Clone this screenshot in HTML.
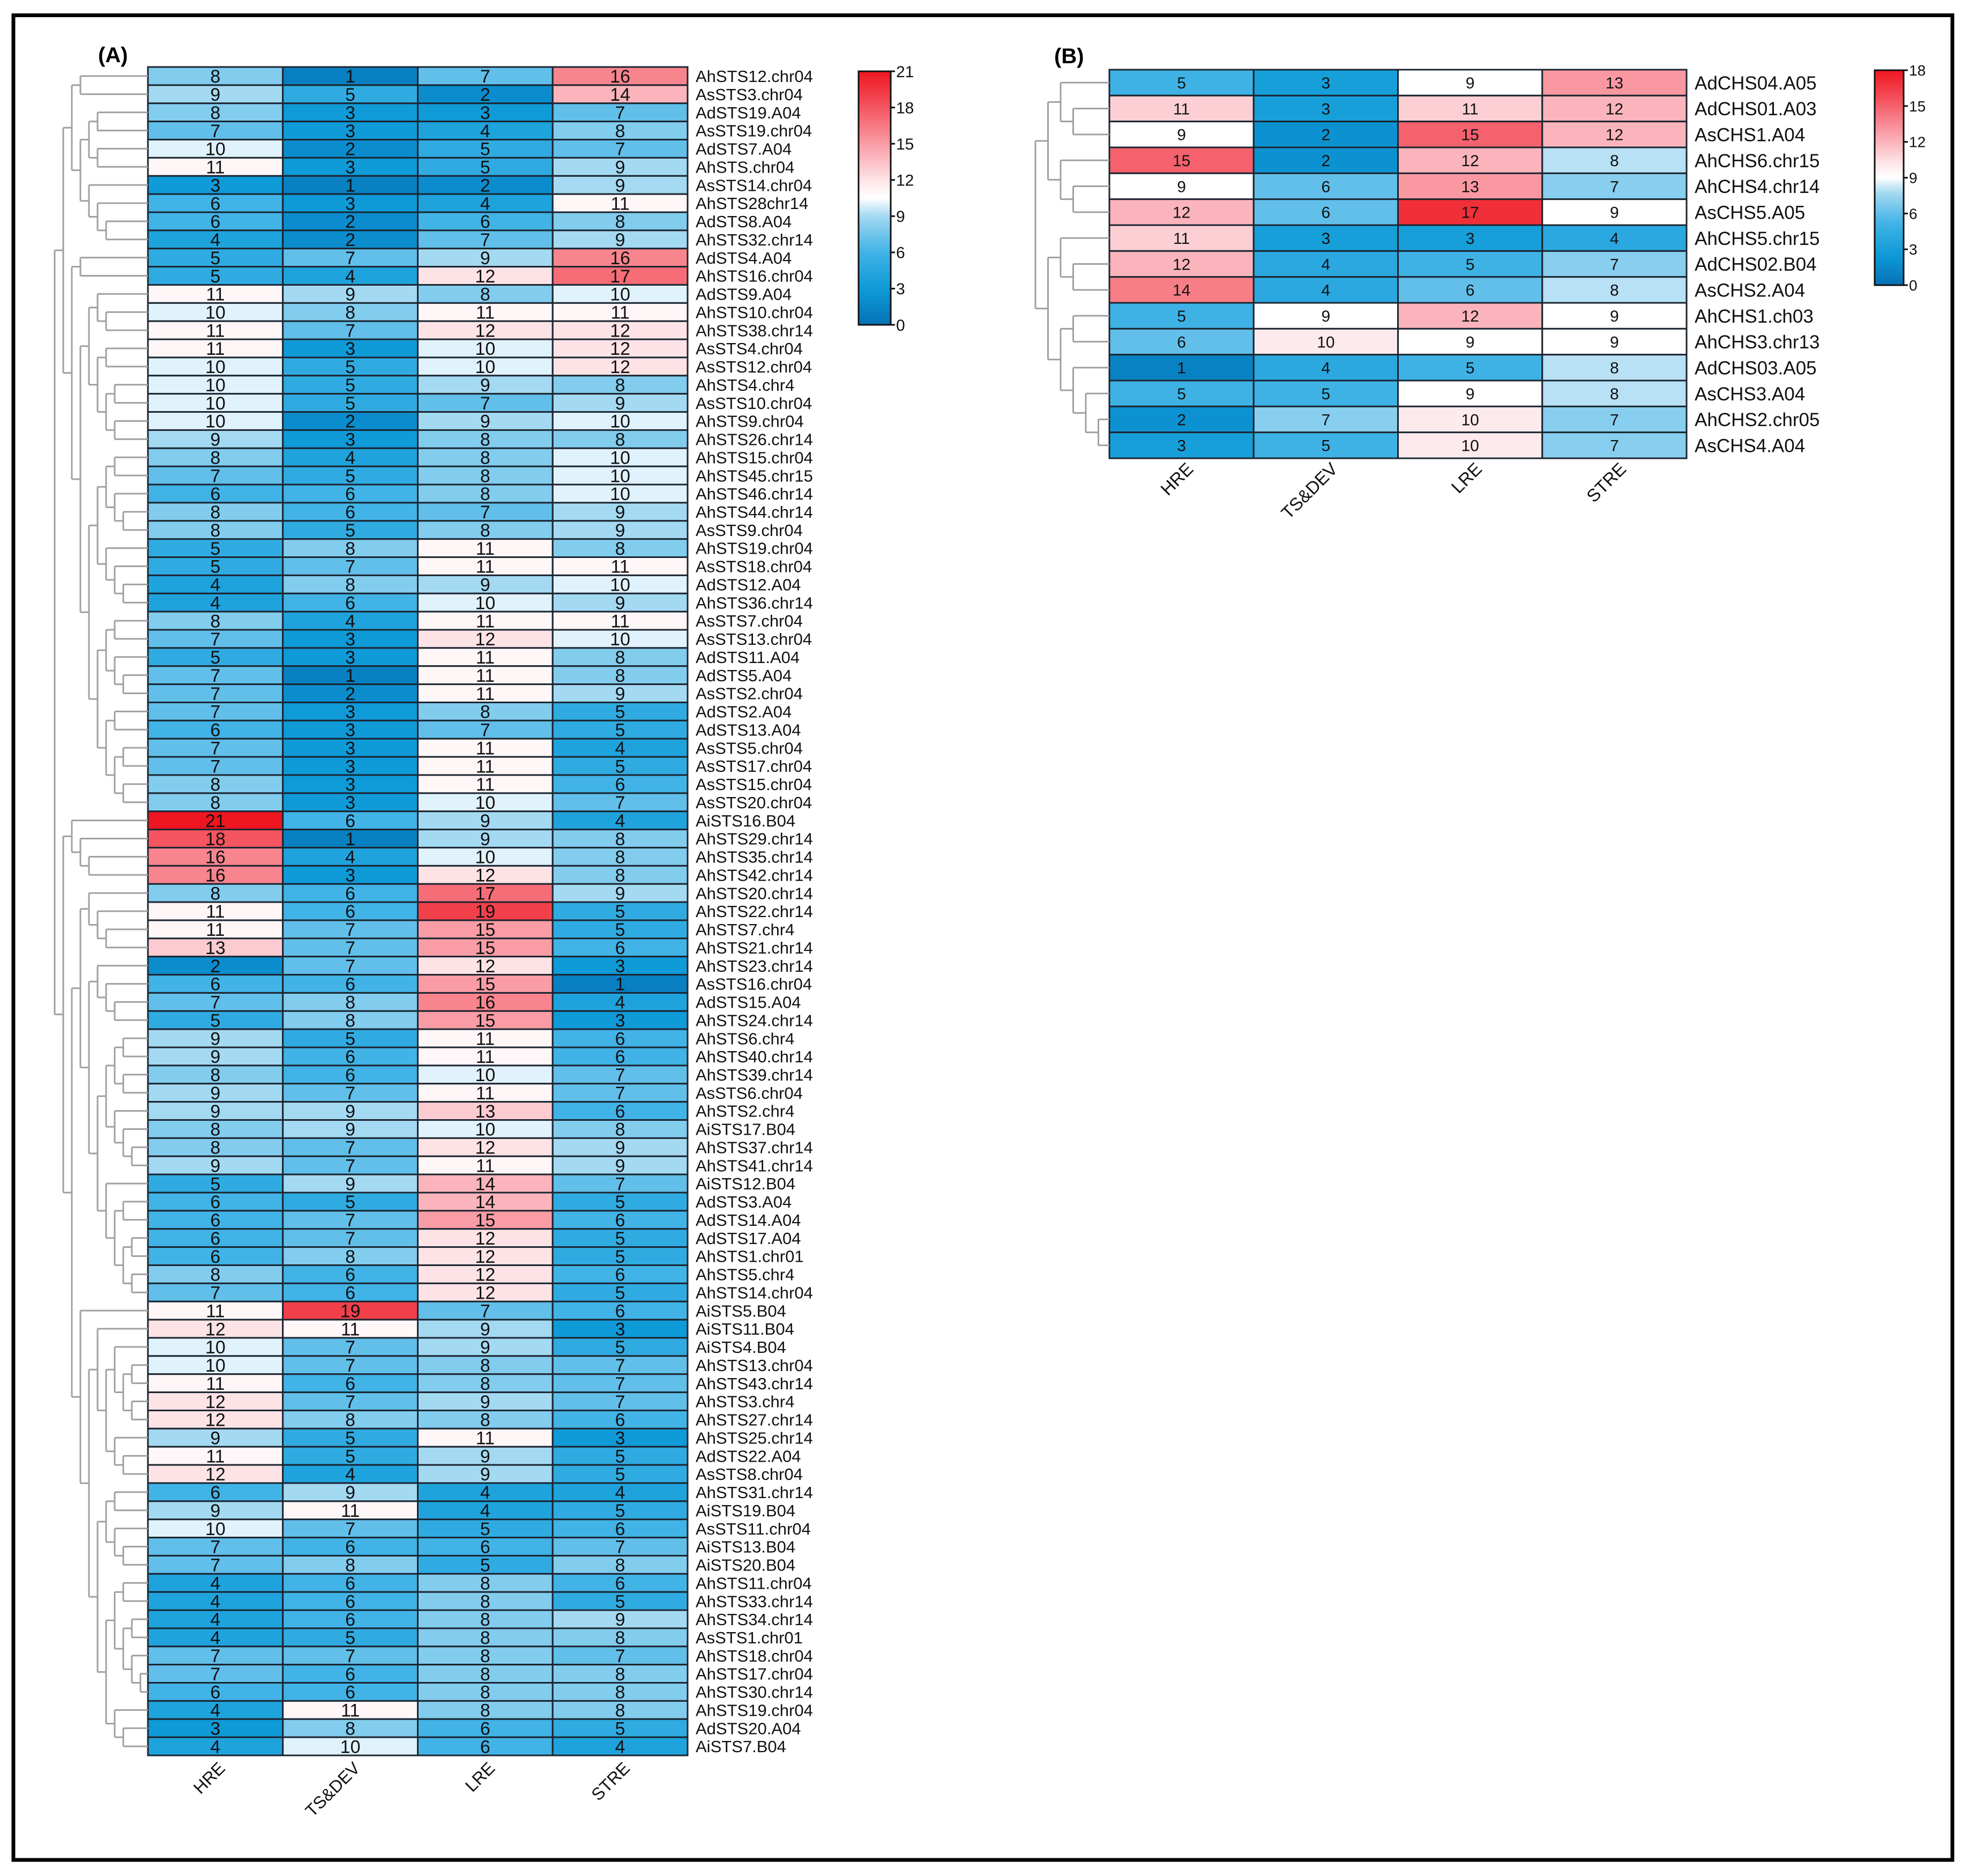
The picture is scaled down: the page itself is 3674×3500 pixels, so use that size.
<!DOCTYPE html>
<html><head><meta charset="utf-8"><style>
html,body{margin:0;padding:0;background:#fff;}
svg{display:block;font-family:"Liberation Sans",Arial,sans-serif;}
</style></head><body>
<svg id="fig" width="3674" height="3500" viewBox="0 0 3674 3500" xmlns="http://www.w3.org/2000/svg">
<rect x="0" y="0" width="3674" height="3500" fill="#fff"/>
<rect x="25" y="28.5" width="3618" height="3441.5" fill="none" stroke="#000" stroke-width="7"/>
<text x="183" y="116" font-size="40" font-weight="bold">(A)</text>
<text x="1967" y="118" font-size="40" font-weight="bold">(B)</text>
<g id="gA"></g>
<g id="gB"></g>
</svg>
<script>
const colsA = ["HRE","TS&DEV","LRE","STRE"];
const rowsA = ["AhSTS12.chr04","AsSTS3.chr04","AdSTS19.A04","AsSTS19.chr04","AdSTS7.A04","AhSTS.chr04","AsSTS14.chr04","AhSTS28chr14","AdSTS8.A04","AhSTS32.chr14","AdSTS4.A04","AhSTS16.chr04","AdSTS9.A04","AhSTS10.chr04","AhSTS38.chr14","AsSTS4.chr04","AsSTS12.chr04","AhSTS4.chr4","AsSTS10.chr04","AhSTS9.chr04","AhSTS26.chr14","AhSTS15.chr04","AhSTS45.chr15","AhSTS46.chr14","AhSTS44.chr14","AsSTS9.chr04","AhSTS19.chr04","AsSTS18.chr04","AdSTS12.A04","AhSTS36.chr14","AsSTS7.chr04","AsSTS13.chr04","AdSTS11.A04","AdSTS5.A04","AsSTS2.chr04","AdSTS2.A04","AdSTS13.A04","AsSTS5.chr04","AsSTS17.chr04","AsSTS15.chr04","AsSTS20.chr04","AiSTS16.B04","AhSTS29.chr14","AhSTS35.chr14","AhSTS42.chr14","AhSTS20.chr14","AhSTS22.chr14","AhSTS7.chr4","AhSTS21.chr14","AhSTS23.chr14","AsSTS16.chr04","AdSTS15.A04","AhSTS24.chr14","AhSTS6.chr4","AhSTS40.chr14","AhSTS39.chr14","AsSTS6.chr04","AhSTS2.chr4","AiSTS17.B04","AhSTS37.chr14","AhSTS41.chr14","AiSTS12.B04","AdSTS3.A04","AdSTS14.A04","AdSTS17.A04","AhSTS1.chr01","AhSTS5.chr4","AhSTS14.chr04","AiSTS5.B04","AiSTS11.B04","AiSTS4.B04","AhSTS13.chr04","AhSTS43.chr14","AhSTS3.chr4","AhSTS27.chr14","AhSTS25.chr14","AdSTS22.A04","AsSTS8.chr04","AhSTS31.chr14","AiSTS19.B04","AsSTS11.chr04","AiSTS13.B04","AiSTS20.B04","AhSTS11.chr04","AhSTS33.chr14","AhSTS34.chr14","AsSTS1.chr01","AhSTS18.chr04","AhSTS17.chr04","AhSTS30.chr14","AhSTS19.chr04","AdSTS20.A04","AiSTS7.B04"];
const hreA  = [8,9,8,7,10,11,3,6,6,4,5,5,11,10,11,11,10,10,10,10,9,8,7,6,8,8,5,5,4,4,8,7,5,7,7,7,6,7,7,8,8,21,18,16,16,8,11,11,13,2,6,7,5,9,9,8,9,9,8,8,9,5,6,6,6,6,8,7,11,12,10,10,11,12,12,9,11,12,6,9,10,7,7,4,4,4,4,7,7,6,4,3,4];
const tsdevA= [1,5,3,3,2,3,1,3,2,2,7,4,9,8,7,3,5,5,5,2,3,4,5,6,6,5,8,7,8,6,4,3,3,1,2,3,3,3,3,3,3,6,1,4,3,6,6,7,7,7,6,8,8,5,6,6,7,9,9,7,7,9,5,7,7,8,6,6,19,11,7,7,6,7,8,5,5,4,9,11,7,6,8,6,6,6,5,7,6,6,11,8,10];
const lreA  = [7,2,3,4,5,5,2,4,6,7,9,12,8,11,12,10,10,9,7,9,8,8,8,8,7,8,11,11,9,10,11,12,11,11,11,8,7,11,11,11,10,9,9,10,12,17,19,15,15,12,15,16,15,11,11,10,11,13,10,12,11,14,14,15,12,12,12,12,7,9,9,8,8,9,8,11,9,9,4,4,5,6,5,8,8,8,8,8,8,8,8,6,6];
const streA = [16,14,7,8,7,9,9,11,8,9,16,17,10,11,12,12,12,8,9,10,8,10,10,10,9,9,8,11,10,9,11,10,8,8,9,5,5,4,5,6,7,4,8,8,8,9,5,5,6,3,1,4,3,6,6,7,7,6,8,9,9,7,5,6,5,5,6,5,6,3,5,7,7,7,6,3,5,5,4,5,6,7,8,6,5,9,8,7,8,8,8,5,4];
const ticksA = [0,3,6,9,12,15,18,21];
const maxA = 21;

const colsB = ["HRE","TS&DEV","LRE","STRE"];
const rowsB = ["AdCHS04.A05","AdCHS01.A03","AsCHS1.A04","AhCHS6.chr15","AhCHS4.chr14","AsCHS5.A05","AhCHS5.chr15","AdCHS02.B04","AsCHS2.A04","AhCHS1.ch03","AhCHS3.chr13","AdCHS03.A05","AsCHS3.A04","AhCHS2.chr05","AsCHS4.A04"];
const hreB  = [5,11,9,15,9,12,11,12,14,5,6,1,5,2,3];
const tsdevB= [3,3,2,2,6,6,3,4,4,9,10,4,5,7,5];
const lreB  = [9,11,15,12,13,17,3,5,6,12,9,5,9,10,10];
const streB = [13,12,12,8,7,9,4,7,8,9,9,8,8,7,7];
const ticksB = [0,3,6,9,12,15,18];
const maxB = 18;

const treeA = [[[[1,2],[[[3,4],[5,6]],[7,[8,[9,10]]]]],
  [[11,12],[[[13,[14,15]],[[16,17],[[18,19],[20,21]]]],
    [[[[22,23],[24,[25,26]]],[27,[28,[29,30]]]],
     [[[31,32],[33,[34,35]]],[[36,37],[[38,39],[40,41]]]]]]]],
 [[42,[43,[44,45]]],
  [[[46,[47,[48,49]]],[[50,[51,[52,53]]],
     [[[[54,55],[56,57]],[58,[59,[60,61]]]],[62,[[63,64],[[65,66],[67,68]]]]]]],
   [69,[[70,[[71,[[72,73],[74,75]]],[76,[77,78]]]],
        [[[79,80],[81,[82,83]]],[[[84,85],[[86,87],[88,[89,90]]]],[91,[92,93]]]]]]]]];
const treeB = [[[1,[2,3]],[4,[5,6]]],[[7,[8,9]],[[10,11],[12,[13,[14,15]]]]]];

const NS = "http://www.w3.org/2000/svg";
const stops = [[0,[6,114,181]],[0.14,[14,154,216]],[0.29,[66,180,230]],[0.43,[165,217,242]],[0.5,[255,255,255]],[0.57,[253,228,231]],[0.71,[250,158,167]],[0.86,[244,84,95]],[1,[238,22,32]]];
function color(t){
  t=Math.max(0,Math.min(1,t));
  for(let i=1;i<stops.length;i++){
    if(t<=stops[i][0]){
      const a=stops[i-1],b=stops[i];const f=(t-a[0])/(b[0]-a[0]);
      const c=a[1].map((v,k)=>Math.round(v+(b[1][k]-v)*f));
      return `rgb(${c[0]},${c[1]},${c[2]})`;
    }
  }
  return "rgb(238,22,32)";
}
function mk(tag, attrs, parent){
  const e=document.createElementNS(NS,tag);
  for(const k in attrs) e.setAttribute(k,attrs[k]);
  parent.appendChild(e);return e;
}
function drawTree(g, tree, rootX, step, leafX, top, rh){
  function rec(node, depth){
    if(typeof node==="number") return {y: top+(node-0.5)*rh, x: leafX};
    const x = rootX+depth*step;
    const ch = node.map(c=>rec(c, depth+1));
    const ys = ch.map(c=>c.y);
    const l = mk("line",{x1:x,x2:x,y1:Math.min(...ys),y2:Math.max(...ys),stroke:"#a0a0a0","stroke-width":3},g);
    
    
    ch.forEach(c=>{
      const h = mk("line",{x1:x,x2:c.x,y1:c.y,y2:c.y,stroke:"#a0a0a0","stroke-width":3},g);
      
      
    });
    return {y:(Math.min(...ys)+Math.max(...ys))/2, x:x};
  }
  rec(tree,0);
}
function drawPanel(g, o){
  const series=[o.s0,o.s1,o.s2,o.s3];
  const n=o.rows.length;
  const rh=(o.bottom-o.top)/n;
  const cw=(o.right-o.left)/4;
  const xs=c=>o.left+c*cw, ys=r=>o.top+r*rh;
  for(let r=0;r<n;r++){
    for(let c=0;c<4;c++){
      const v=series[c][r];
      const rect=mk("rect",{x:xs(c),y:ys(r),width:cw,height:rh,fill:color(v/o.max),stroke:"#1b2530","stroke-width":o.sw},g);
      
      
      const t=mk("text",{x:xs(c)+cw/2,y:ys(r)+rh/2+o.nfs*0.36,"font-size":o.nfs,"text-anchor":"middle",fill:"#111"},g);
      
      
      t.textContent=v;
    }
    const lb=mk("text",{x:o.labelX,y:ys(r)+rh/2+o.lfs*0.36,"font-size":o.lfs,fill:"#111"},g);
    
    
    lb.textContent=o.rows[r];
  }
  o.cols.forEach((c,i)=>{
    const ax=xs(i)+cw/2+o.cdx, ay=o.bottom+o.cdy;
    const t=mk("text",{x:ax,y:ay,"font-size":o.cfs,"text-anchor":"end",transform:`rotate(-45 ${ax} ${ay})`,fill:"#111"},g);
    
    
    t.textContent=c;
  });
  const cb=o.cb;
  const gid=o.id+"grad";
  const defs=mk("defs",{},g);
  const lg=mk("linearGradient",{id:gid,x1:0,y1:1,x2:0,y2:0},defs);
  for(let i=0;i<=40;i++){mk("stop",{offset:i/40,"stop-color":color(i/40)},lg);}
  const bar=mk("rect",{x:cb.x,y:cb.y,width:cb.w,height:cb.h,fill:`url(#${gid})`,stroke:"#111","stroke-width":3},g);
  
  
  o.ticks.forEach(tv=>{
    const ty=cb.y+cb.h-(tv/o.max)*cb.h;
    const tk=mk("line",{x1:cb.x+cb.w,x2:cb.x+cb.w+8,y1:ty,y2:ty,stroke:"#111","stroke-width":3},g);
    
    
    const tl=mk("text",{x:cb.x+cb.w+10,y:ty+o.tfs*0.36,"font-size":o.tfs,fill:"#111"},g);
    
    
    tl.textContent=tv;
  });
  drawTree(g,o.tree,o.rootX,o.step,o.left,o.top,rh);
}
drawPanel(document.getElementById("gA"),{id:"A",rows:rowsA,cols:colsA,s0:hreA,s1:tsdevA,s2:lreA,s3:streA,max:maxA,
  left:276,right:1283,top:125,bottom:3275,sw:3,nfs:34,lfs:31,labelX:1298,cfs:32,cdx:20,cdy:26,
  cb:{x:1602,y:133,w:60,h:473},ticks:ticksA,tfs:30,tree:treeA,rootX:102,step:16});
drawPanel(document.getElementById("gB"),{id:"B",rows:rowsB,cols:colsB,s0:hreB,s1:tsdevB,s2:lreB,s3:streB,max:maxB,
  left:2070,right:3147,top:130,bottom:855,sw:3,nfs:30,lfs:35,labelX:3162,cfs:33,cdx:24,cdy:22,
  cb:{x:3498,y:131,w:54,h:401},ticks:ticksB,tfs:28,tree:treeB,rootX:1932,step:23.5});
</script>
</body></html>
